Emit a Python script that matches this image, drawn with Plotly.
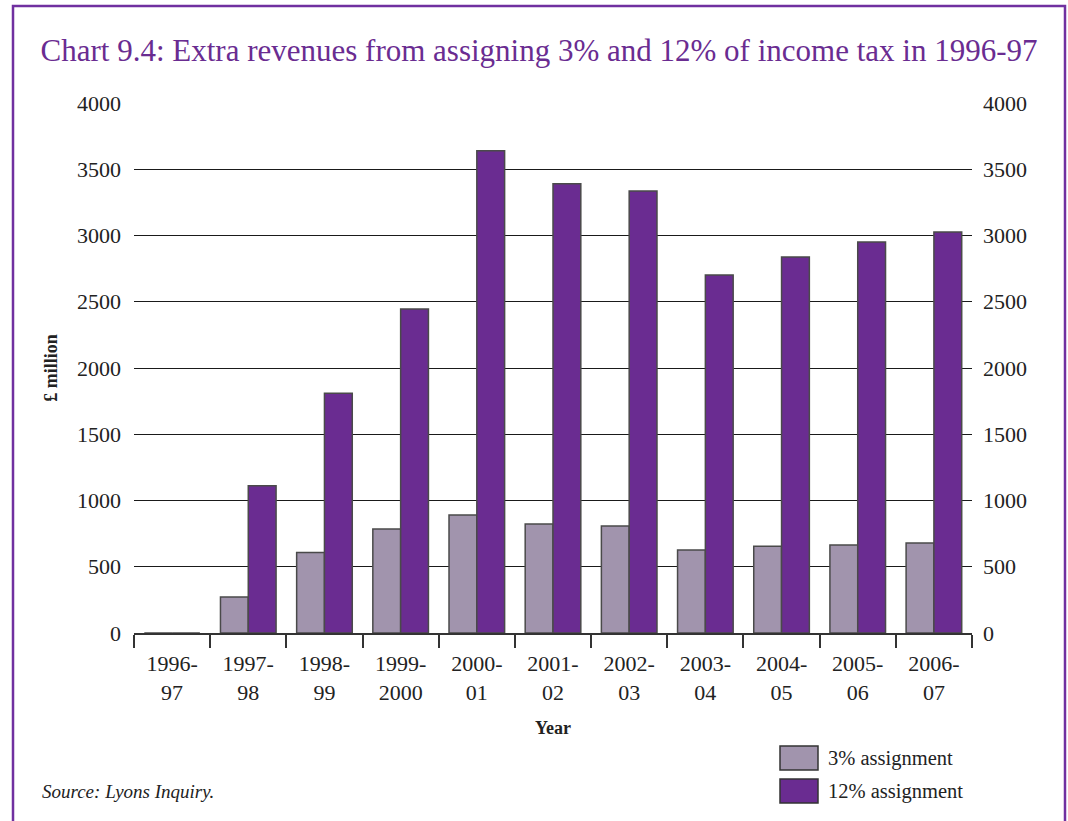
import plotly.graph_objs as go

# Data (GBP million)
years = ['1996-<br>97', '1997-<br>98', '1998-<br>99', '1999-<br>2000', '2000-<br>01', '2001-<br>02',
         '2002-<br>03', '2003-<br>04', '2004-<br>05', '2005-<br>06', '2006-<br>07']
assign_3 = [0, 272, 608, 785, 890, 823, 808, 626, 655, 664, 679]
assign_12 = [0, 1112, 1810, 2445, 3640, 3390, 3336, 2702, 2838, 2951, 3026]
y_ticks = [0, 500, 1000, 1500, 2000, 2500, 3000, 3500, 4000]

LIGHT = '#a194ad'
DARK = '#6a2c91'
FRAME = '#7030a0'
SERIF = 'Liberation Serif'

# Plot area in pixels, used to convert decoration positions into paper coordinates
L, R, T, B = 134, 96, 103, 188
W, H = 1068, 821
pw, ph = W - L - R, H - T - B


def px(x):
    return (x - L) / pw


def py(y):
    return (H - B - y) / ph


fig = go.Figure()

fig.add_trace(go.Bar(
    x=years, y=assign_3, name='3% assignment',
    marker=dict(color=LIGHT, line=dict(color='#4a4a4a', width=1.5)),
    showlegend=False
))
fig.add_trace(go.Bar(
    x=years, y=assign_12, name='12% assignment',
    marker=dict(color=DARK, line=dict(color='#4a4a4a', width=1.5)),
    showlegend=False
))
# invisible trace so the right-hand axis gets drawn
fig.add_trace(go.Scatter(x=years, y=assign_12, yaxis='y2', mode='markers',
                         marker=dict(opacity=0), showlegend=False, hoverinfo='skip'))

axis_font = dict(family=SERIF, size=22, color='#222222')

fig.update_layout(
    width=W, height=H,
    margin=dict(l=L, r=R, t=T, b=B, autoexpand=False),
    paper_bgcolor='white',
    plot_bgcolor='white',
    barmode='group',
    bargap=0.27,
    bargroupgap=0,
    title=dict(
        text='Chart 9.4: Extra revenues from assigning 3% and 12% of income tax in 1996-97',
        x=539 / W, xref='container', xanchor='center', y=1 - 50 / H, yanchor='middle',
        font=dict(family=SERIF, size=31, color=DARK)
    ),
    xaxis=dict(
        automargin=False,
        range=[-0.5, len(years) - 0.5],
        showgrid=False,
        showline=True, linecolor='#333333', linewidth=2,
        ticks='outside', tickson='boundaries', ticklen=13, tickcolor='#333333', tickwidth=1.5,
        ticklabelstandoff=10,
        tickfont=axis_font,
        title=dict(text='<b>Year</b>', font=dict(family=SERIF, size=18, color='#222222'), standoff=17),
    ),
    yaxis=dict(
        automargin=False,
        range=[0, 4000],
        tickvals=y_ticks,
        showgrid=True, gridcolor='#1a1a1a', gridwidth=1,
        zeroline=False,
        showline=False,
        ticks='', ticklabelstandoff=12,
        tickfont=axis_font,
        title=dict(text='<b>£ million</b>', font=dict(family=SERIF, size=18, color='#222222'), standoff=14),
    ),
    yaxis2=dict(
        automargin=False,
        range=[0, 4000],
        tickvals=y_ticks,
        overlaying='y', side='right',
        showgrid=False, zeroline=False, showline=False,
        ticks='', ticklabelstandoff=10,
        tickfont=axis_font,
    ),
    font=dict(family=SERIF),
)

# purple frame around the whole chart
fig.add_shape(type='rect', xref='paper', yref='paper',
              x0=px(13), x1=px(1065), y0=py(840), y1=py(6),
              line=dict(color=FRAME, width=2.5), fillcolor='rgba(0,0,0,0)', layer='above')

# legend drawn by hand to match the large swatches
legend_items = [('3% assignment', LIGHT, 746), ('12% assignment', DARK, 779)]
for label, color, top in legend_items:
    fig.add_shape(type='rect', xref='paper', yref='paper',
                  x0=px(780), x1=px(818), y0=py(top + 24), y1=py(top),
                  line=dict(color='#333333', width=1.5), fillcolor=color)
    fig.add_annotation(xref='paper', yref='paper', x=px(826), y=py(top + 12),
                       text=label, showarrow=False, xanchor='left', yanchor='middle',
                       font=dict(family=SERIF, size=20.5, color='#222222'))

fig.add_annotation(xref='paper', yref='paper', x=px(40), y=py(791),
                   text='<i>Source: Lyons Inquiry.</i>', showarrow=False,
                   xanchor='left', yanchor='middle',
                   font=dict(family=SERIF, size=19, color='#222222'))

# drop the default page margin so the figure sits at the window's corner
fig.write_html('out.html', config={'displayModeBar': False},
               post_script="document.body.style.margin='0';document.body.style.overflow='hidden';")
